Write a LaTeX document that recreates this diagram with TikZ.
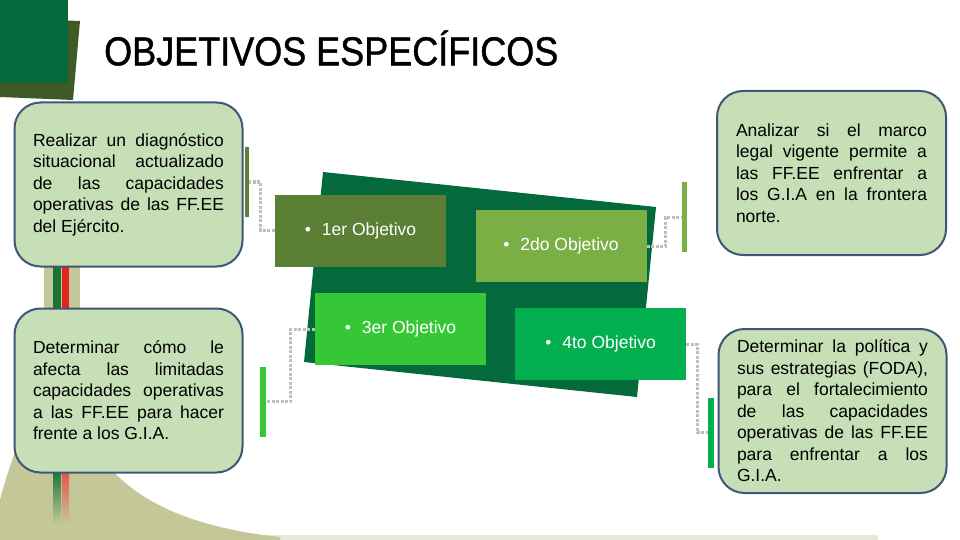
\documentclass[tikz,border=0pt]{standalone}
\usepackage{fontspec}
\setmainfont{Liberation Sans}
\usepackage{xcolor}
\usepackage[]{tikz}

\definecolor{darkgreen}{HTML}{046A3B}
\definecolor{darkolive}{HTML}{3D5A27}
\definecolor{olivegreen}{HTML}{5A7F35}
\definecolor{leafgreen}{HTML}{79AF45}
\definecolor{brightgreen}{HTML}{35C735}
\definecolor{emerald}{HTML}{03AF4F}
\definecolor{hill}{HTML}{C4C899}
\definecolor{hillpale}{HTML}{E6E8D8}
\definecolor{boxfill}{HTML}{C6DFB6}
\definecolor{boxline}{HTML}{3F5677}
\definecolor{dotgray}{HTML}{BFBFBF}
\definecolor{stripered}{HTML}{E2231A}
\definecolor{stripegreen}{HTML}{1B7236}

\begin{document}
\begin{tikzpicture}[x=1pt,y=-1pt,
  textbox/.style={draw=boxline,line width=2pt,fill=boxfill,rounded corners=26pt,
    minimum width=228pt,minimum height=164pt,text width=191pt,align=justify,
    font=\fontsize{17.5}{21.5}\selectfont},
  objbox/.style={minimum width=171pt,minimum height=72pt,inner sep=0pt,text=white,
    font=\fontsize{17.5}{21}\selectfont},
  bar/.style={minimum height=70pt,inner sep=0pt},
  conn/.style={draw=dotgray,line width=3pt,dash pattern=on 3pt off 1.5pt}]
\useasboundingbox (0,0) rectangle (960,540);
\fill[white] (0,0) rectangle (960,540);

\fill[hillpale] (250,535) rectangle (878,540);
\fill[hill] (0,540) -- (0,500) .. controls (10,460) and (40,380) .. (65,350)
  .. controls (75,450) and (120,520) .. (280,537) -- (280,540) -- cycle;

\fill[darkolive] (0,18) -- (80,21) -- (73,100) -- (0,97) -- cycle;
\fill[darkgreen] (0,0) rectangle (68,83);
\node[anchor=west,inner sep=0pt,yscale=1.12,transform shape,font=\fontsize{36}{40}\selectfont\addfontfeature{FakeBold=1.2}] (title) at (104,48) {OBJETIVOS ESPECÍFICOS};

\fill[hill] (44,262) rectangle (80,312);
\fill[stripegreen] (53,262) rectangle (61,312);
\fill[stripered] (62,262) rectangle (69,312);
\shade[top color=stripegreen,bottom color=hill] (53,470) rectangle (61,524);
\shade[top color=stripered!80,bottom color=hill] (62,470) rectangle (69,524);

\node[textbox] (goal1) at (128.5,184.5) {Realizar un diagnóstico\linebreak situacional actualizado\linebreak de las capacidades\linebreak operativas de las FF.EE\linebreak del Ejército.};
\node[textbox] (goal3) at (128.5,390.5) {Determinar cómo le\linebreak afecta las limitadas\linebreak capacidades operativas\linebreak a las FF.EE para hacer\linebreak frente a los G.I.A.};
\node[textbox,minimum width=229pt] (goal2) at (831.5,173) {Analizar si el marco\linebreak legal vigente permite a\linebreak las FF.EE enfrentar a\linebreak los G.I.A en la frontera\linebreak norte.};
\node[textbox] (goal4) at (832.5,411) {Determinar la política y\linebreak sus estrategias (FODA),\linebreak para el fortalecimiento\linebreak de las capacidades\linebreak operativas de las FF.EE\linebreak para enfrentar a los\linebreak G.I.A.};

\fill[darkgreen] (323,172) -- (656,207) -- (637,397) -- (304,362) -- cycle;

\node[objbox,fill=olivegreen] (obj1) at (360.5,230.5) {\textbullet\hspace{11pt}1er Objetivo};
\node[objbox,fill=leafgreen] (obj2) at (561,246) {\textbullet\hspace{11pt}2do Objetivo};
\node[objbox,fill=brightgreen] (obj3) at (400.5,329) {\textbullet\hspace{11pt}3er Objetivo};
\node[objbox,fill=emerald] (obj4) at (600.5,344) {\textbullet\hspace{11pt}4to Objetivo};

\node[bar,fill=olivegreen,minimum width=4.5pt] (bar1) at (247,182) {};
\node[bar,fill=leafgreen,minimum width=5pt] (bar2) at (684.5,217) {};
\node[bar,fill=brightgreen,minimum width=6pt] (bar3) at (263,401.5) {};
\node[bar,fill=emerald,minimum width=6pt] (bar4) at (711,432.5) {};

\draw[conn] (obj1.west) -- ++(-14,0) |- (bar1.east);
\draw[conn] (obj2.east) -- ++(19,0) |- (bar2.west);
\draw[conn] (obj3.west) -- ++(-24,0) |- (bar3.east);
\draw[conn] (obj4.east) -- ++(11,0) |- (bar4.west);
\end{tikzpicture}
\end{document}
